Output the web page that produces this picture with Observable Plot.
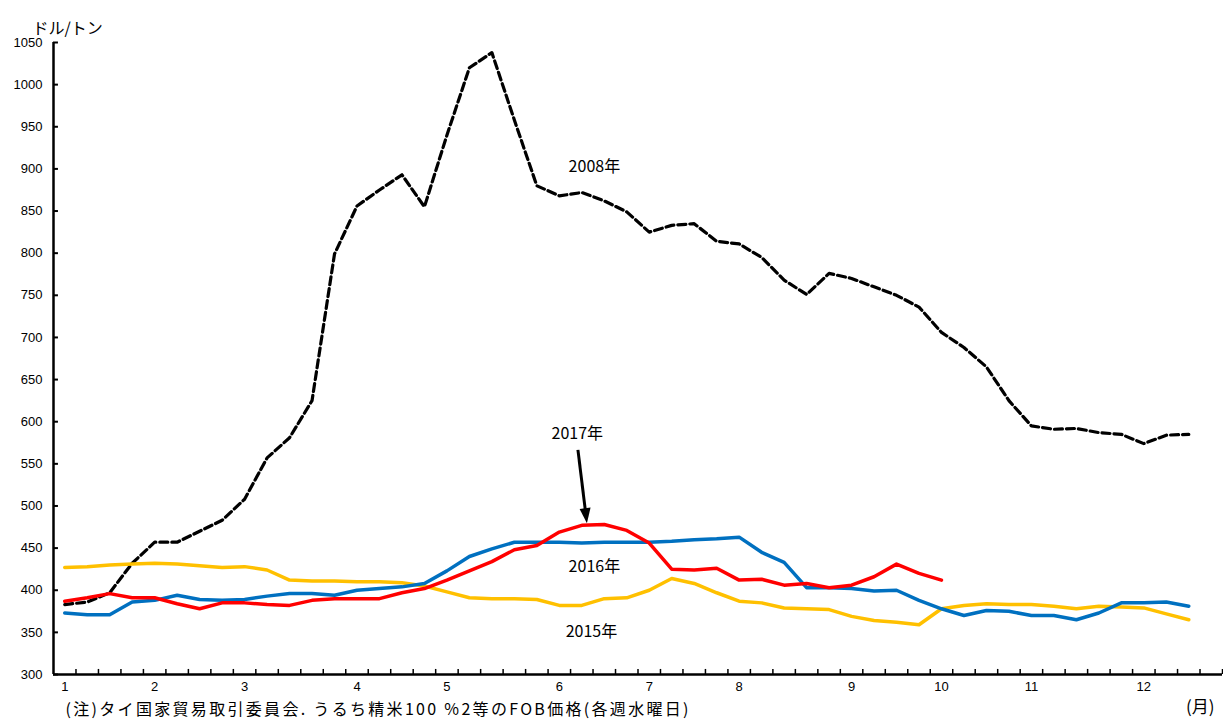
<!DOCTYPE html>
<html><head><meta charset="utf-8">
<script src="https://cdn.jsdelivr.net/npm/d3@7"></script>
<script src="https://cdn.jsdelivr.net/npm/@observablehq/plot@0.6"></script>
<style>
body{margin:0;background:#fff;}
#chart svg{display:block;}
</style></head><body><div id="chart"></div>
<script>
// ---- data ----
const weekCount = 52;
const monthLabels = ["1","2","3","4","5","6","7","8","9","10","11","12"];
const monthStartWeeks = [0,4,8,13,17,22,26,30,35,39,43,48];
const yTicks = [300,350,400,450,500,550,600,650,700,750,800,850,900,950,1000,1050];

const price2008 = [383,386,397,432,457,457,470,483,508,557,581,625,799,856,875,893,855,940,1020,1038,
  958,880,868,872,862,849,825,833,835,814,811,795,768,751,776,770,760,750,736,706,
  688,665,625,595,591,592,587,585,574,584,585];
const price2015 = [427,428,430,431,432,431,429,427,428,424,412,411,411,410,410,409,405,398,391,390,
  390,389,382,382,390,391,400,414,408,397,387,385,379,378,377,369,364,362,359,378,
  382,384,383,383,381,378,381,380,379,372,365];
const price2016 = [373,371,371,386,388,394,389,388,389,393,396,396,394,400,402,404,408,423,440,449,
  457,457,457,456,457,457,457,458,460,461,463,445,433,403,403,402,399,400,388,378,
  370,376,375,370,370,365,373,385,385,386,381];
const price2017 = [387,391,396,391,391,384,378,385,385,383,382,388,390,390,390,397,402,412,423,434,
  448,453,469,477,478,471,456,425,424,426,412,413,406,408,403,406,416,431,420,412];

const yearLabels = [
  {text:"2008年", week:24.06, value:902},
  {text:"2017年", week:23.3, value:585},
  {text:"2016年", week:24.06, value:428},
  {text:"2015年", week:23.93, value:350}
];
const arrowFrom = {week:23.35, value:566};
const arrowTo = {week:23.75, value:479};
const unitLabel = "ドル/トン";
const monthUnit = "(月)";
const note = "(注)タイ国家貿易取引委員会. うるち精米100 %2等のFOB価格(各週水曜日)";

const toRows = arr => arr.map((v,i)=>({week:i, value:v}));

function arrowMark(index, scales) {
  const sx = scales.x, sy = scales.y;
  const x1 = sx(arrowFrom.week), y1 = sy(arrowFrom.value);
  const x2 = sx(arrowTo.week), y2 = sy(arrowTo.value);
  const dx = x2-x1, dy = y2-y1, len = Math.hypot(dx,dy);
  const ux = dx/len, uy = dy/len;
  const hl = 15, hw = 5.5;
  const bx = x2-ux*hl, by = y2-uy*hl;
  const g = d3.create("svg:g");
  g.append("line").attr("x1",x1).attr("y1",y1).attr("x2",bx+ux*2).attr("y2",by+uy*2)
    .attr("stroke","#000").attr("stroke-width",3);
  g.append("polygon").attr("points",
    `${x2},${y2} ${bx-uy*hw},${by+ux*hw} ${bx+uy*hw},${by-ux*hw}`).attr("fill","#000");
  return g.node();
}

const font = "'Liberation Sans','Noto Sans CJK JP',sans-serif";
const jfont = "'Noto Sans CJK JP','Liberation Sans',sans-serif";

const chart = Plot.plot({
  width: 1223,
  height: 724,
  marginLeft: 53,
  marginRight: 1,
  marginTop: 42,
  marginBottom: 50,
  style: {fontFamily: font, background: "#fff", color: "#000"},
  x: {domain: [0, weekCount], axis: null},
  y: {domain: [300, 1050], axis: null},
  marks: [
    Plot.axisY(yTicks, {tickSize: 0, tickPadding: 11, fontSize: 13, label: null, fill: "#000", tickFormat: d => String(d)}),
    Plot.text(monthLabels, {x: (d,i)=>monthStartWeeks[i]+0.5, frameAnchor: "bottom", dy: 16, fontSize: 13, fill: "#000"}),
    Plot.ruleX(d3.range(1, weekCount+1), {x: d=>d, y1: 300, y2: 306, stroke: "#000", strokeWidth: 1.5}),
    Plot.ruleY(yTicks, {y: d=>d, x1: 0, x2: 0.22, stroke: "#000", strokeWidth: 2}),
    Plot.line(toRows(price2008), {x: d=>d.week+0.5, y: "value", stroke: "#000", strokeWidth: 3.2, strokeDasharray: "8,4"}),
    Plot.line(toRows(price2015), {x: d=>d.week+0.5, y: "value", stroke: "#FFC000", strokeWidth: 3.5}),
    Plot.line(toRows(price2016), {x: d=>d.week+0.5, y: "value", stroke: "#0070C0", strokeWidth: 3.5}),
    Plot.line(toRows(price2017), {x: d=>d.week+0.5, y: "value", stroke: "#FF0000", strokeWidth: 3.5}),
    Plot.ruleX([0], {stroke: "#000", strokeWidth: 2.5}),
    Plot.ruleY([300], {stroke: "#000", strokeWidth: 2.5}),
    Plot.text(yearLabels, {x: "week", y: "value", text: "text", fontSize: 16, fill: "#000", fontFamily: jfont}),
    arrowMark,
    Plot.text([unitLabel], {frameAnchor: "top-left", dx: -21, dy: -20, textAnchor: "start", fontSize: 16, fill: "#000", fontFamily: jfont}),
    Plot.text([monthUnit], {frameAnchor: "bottom-right", dx: -8, dy: 38, textAnchor: "end", fontSize: 17, fill: "#000", fontFamily: jfont}),
    Plot.text([note], {frameAnchor: "bottom-left", dx: 12, dy: 40, textAnchor: "start", fontSize: 16, fill: "#000", fontFamily: jfont, className: "footnote"})
  ]
});
document.getElementById("chart").append(chart);
d3.select(chart).selectAll(".footnote text").attr("textLength", 623).attr("lengthAdjust", "spacing");
</script>
</body></html>
